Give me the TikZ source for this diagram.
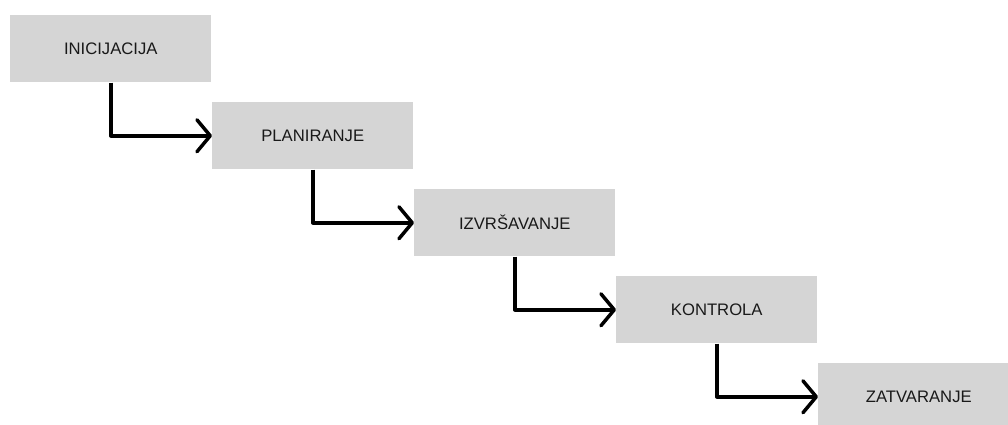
\documentclass[tikz,border=0pt]{standalone}
\usepackage{fontspec}
\setmainfont{Liberation Sans}
\usetikzlibrary{arrows.meta}
\definecolor{boxgray}{HTML}{D5D5D5}

\begin{document}
\begin{tikzpicture}[x=0.75pt,y=-0.75pt]
\tikzset{phase/.style={fill=boxgray, anchor=north west, inner sep=0pt,
  minimum width=150.75pt, minimum height=50.25pt,
  font=\fontsize{12.5}{15}\selectfont, text=black!90}}
\tikzset{flow/.style={line width=2.6pt, line join=round,
  -{Straight Barb[length=10pt,width=24pt,line cap=round,line join=round]}}}

\useasboundingbox (0,0) rectangle (1008,425);
\clip (0,0) rectangle (1008,425);

\node[phase] (p1) at (10,15) {INICIJACIJA};
\node[phase] (p2) at (212,102) {PLANIRANJE};
\node[phase] (p3) at (414,189) {IZVRŠAVANJE};
\node[phase] (p4) at (616,276) {KONTROLA};
\node[phase] (p5) at (818,363) {ZATVARANJE};

\foreach \a/\b in {1/2,2/3,3/4,4/5}
  \draw[flow] (p\a.south) |- (p\b.west);
\end{tikzpicture}
\end{document}
